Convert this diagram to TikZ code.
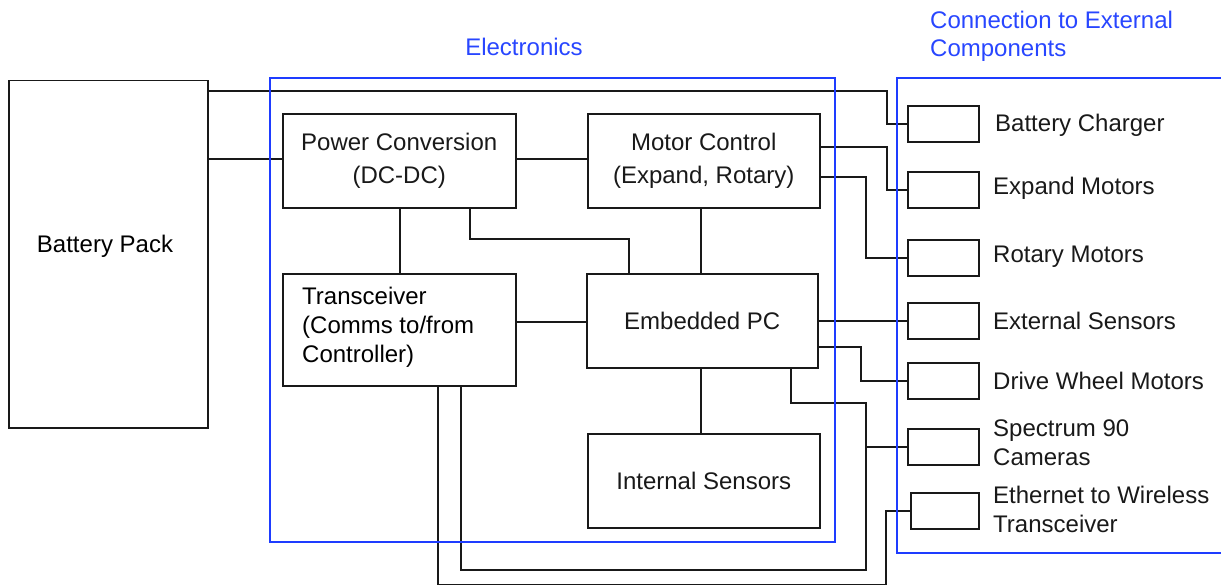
\documentclass[tikz,border=0pt]{standalone}
\usepackage{fontspec}
\setmainfont{Liberation Sans}
\definecolor{frameblue}{RGB}{30,60,255}
\definecolor{labelblue}{RGB}{40,70,255}
\begin{document}
\begin{tikzpicture}[x=1pt,y=-1pt,
  font=\fontsize{24}{30}\selectfont,
  wire/.style={line width=1.5pt, black!90},
  box/.style={draw, line width=1.5pt, black!90, anchor=north west, inner sep=0pt, align=center},
  ext/.style={box, minimum width=71pt, minimum height=36pt},
  extlabel/.style={anchor=west, align=left, inner sep=0pt, text=black!90},
  group/.style={draw=frameblue, line width=1.5pt},
  grouplabel/.style={text=labelblue, inner sep=0pt, align=left}]
\useasboundingbox (0,0) rectangle (1221,586);

% main blocks
\node[box, minimum width=199pt, minimum height=347pt] (bp) at (8,80) {};
\node[inner sep=0pt] (bpt) at (105,246) {Battery Pack};
\node[box, minimum width=233pt, minimum height=94pt, font=\fontsize{24}{33}\selectfont] (pwr) at (282,113) {Power Conversion\\(DC-DC)};
\node[box, minimum width=232pt, minimum height=94pt, font=\fontsize{24}{33}\selectfont] (mc) at (587,113) {Motor Control\\(Expand, Rotary)};
\node[box, minimum width=233pt, minimum height=112pt] (tr) at (282,273) {};
\node[anchor=west, align=left, inner sep=0pt, font=\fontsize{24}{29}\selectfont] (trt) at (302,327) {Transceiver\\(Comms to/from\\Controller)};
\node[box, minimum width=231pt, minimum height=94pt] (epc) at (586,273) {Embedded PC};
\node[box, minimum width=232pt, minimum height=94pt] (is) at (587,433) {Internal Sensors};

% external component boxes
\node[ext] (b1) at (907,105) {};
\node[ext] (b2) at (907,171) {};
\node[ext] (b3) at (907,239) {};
\node[ext] (b4) at (907,302) {};
\node[ext] (b5) at (907,362) {};
\node[ext] (b6) at (907,428) {};
\node[ext, minimum width=68pt] (b7) at (910,492) {};

\node[extlabel] (l1) at (995,125) {Battery Charger};
\node[extlabel] (l2) at (993,188) {Expand Motors};
\node[extlabel] (l3) at (993,257) {Rotary Motors};
\node[extlabel] (l4) at (993,321) {External Sensors};
\node[extlabel] (l5) at (993,381) {Drive Wheel Motors};
\node[extlabel, font=\fontsize{24}{29}\selectfont] (l6) at (993,443) {Spectrum 90\\Cameras};
\node[extlabel, font=\fontsize{24}{29}\selectfont] (l7) at (993,509) {Ethernet to Wireless\\Transceiver};

% wires
\draw[wire] (bp.east |- 0,91) -- (887,91) |- (b1.west);
\draw[wire] (bp.east |- 0,159) -- (pwr.west |- 0,159);
\draw[wire] (pwr.east |- 0,159) -- (mc.west |- 0,159);
\draw[wire] (pwr.south -| 400,0) -- (tr.north -| 400,0);
\draw[wire] (pwr.south -| 470,0) |- (629,239) -- (epc.north -| 629,0);
\draw[wire] (mc.south -| 701,0) -- (epc.north -| 701,0);
\draw[wire] (tr.east |- 0,322) -- (epc.west |- 0,322);
\draw[wire] (epc.east |- 0,321) -- (b4.west |- 0,321);
\draw[wire] (mc.east |- 0,147) -- (887,147) |- (b2.west);
\draw[wire] (mc.east |- 0,177) -- (866,177) |- (b3.west);
\draw[wire] (epc.east |- 0,347) -- (861,347) |- (b5.west);
\draw[wire] (epc.south -| 701,0) -- (is.north -| 701,0);
\draw[wire] (epc.south -| 791,0) |- (866,403) |- (b6.west);
\draw[wire] (b6.west -| 866,0) -- (866,570) -| (tr.south -| 461,0);
\draw[wire] (tr.south -| 438,0) |- (886,584.5) |- (b7.west);

% groups
\draw[group] (270,78) rectangle (835,542);
\draw[group] (1230,78) -- (897,78) -- (897,553) -- (1230,553);
\node[grouplabel] (gl1) at (524,47) {Electronics};
\node[grouplabel, anchor=west, font=\fontsize{24}{28}\selectfont] (gl2) at (930,36) {Connection to External\\Components};
\end{tikzpicture}
\end{document}
